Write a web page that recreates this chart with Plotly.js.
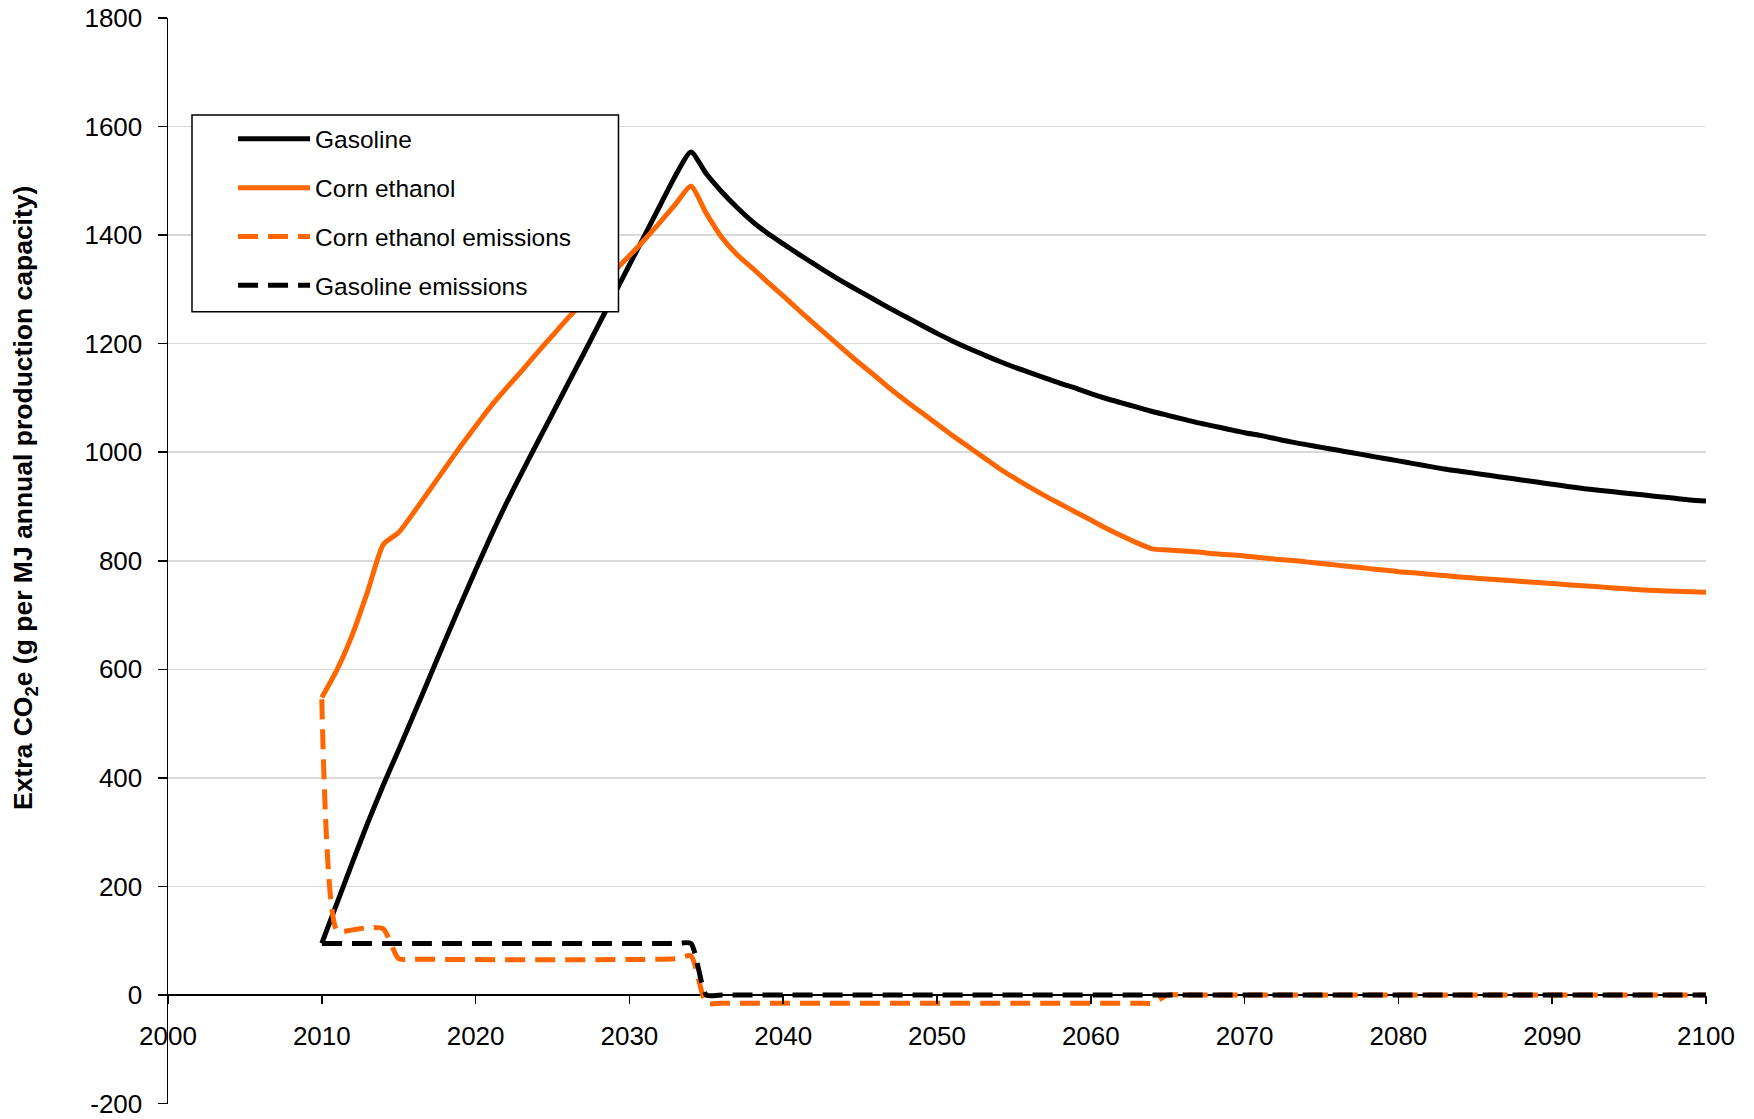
<!DOCTYPE html>
<html>
<head>
<meta charset="utf-8">
<script src="https://cdn.plot.ly/plotly-3.0.1.min.js"></script>
<style>
  html, body { margin: 0; padding: 0; background: #ffffff; }
  #chart { width: 1754px; height: 1119px; }
</style>
</head>
<body>
<div id="chart"></div>
<script>
// ---- Data ----
const firstYear = 2010;

// Gasoline, yearly 2010..2100
const gasoline = [
  95, 170, 245, 318, 387, 452, 518, 585, 652, 718,
  783, 846, 906, 962, 1017, 1071, 1126, 1180, 1235, 1290,
  1345, 1400, 1455, 1510, 1553, 1513, 1480, 1451, 1425, 1403,
  1384, 1365, 1347, 1329, 1312, 1296, 1280, 1264, 1249, 1234,
  1219, 1205, 1192, 1180, 1168, 1157, 1147, 1137, 1127, 1118,
  1108, 1099, 1091, 1083, 1075, 1068, 1061, 1054, 1048, 1042,
  1036, 1031, 1025, 1019, 1014, 1009, 1004, 999, 994, 989,
  984, 979, 974, 969, 965, 961, 957, 953, 949, 945,
  941, 937, 933, 930, 927, 924, 921, 918, 915, 912,
  910
];

// Corn ethanol, yearly 2010..2100
const cornEthanol = [
  548, 600, 665, 745, 830, 852, 890, 930, 970, 1010,
  1048, 1085, 1118, 1150, 1183, 1215, 1247, 1277, 1305, 1333,
  1362, 1392, 1424, 1457, 1490, 1440, 1396, 1364, 1339, 1313,
  1288, 1262, 1237, 1212, 1187, 1163, 1140, 1116, 1094, 1073,
  1052, 1031, 1011, 991, 971, 953, 936, 920, 905, 890,
  875, 860, 846, 833, 822, 820, 818, 816, 813, 811,
  809, 806, 803, 801, 798, 795, 792, 789, 786, 783,
  780, 778, 775, 773, 770, 768, 766, 764, 762, 760,
  758, 756, 754, 752, 750, 748, 746, 745, 744, 743,
  742
];

// Corn ethanol emissions
const ethEmisYears = [2010, 2011, 2012, 2013, 2014, 2015, 2016, 2033, 2034, 2035, 2036, 2063, 2064, 2065, 2066, 2100];
const ethEmisVals  = [545,  118,  120,  124,  122,  67,   66,   67,   72,   -15,  -15,  -15,  -15,  0,    0,    0];

// Gasoline emissions
const gasEmisYears = [2010, 2033, 2034, 2035, 2036, 2100];
const gasEmisVals  = [95,   95,   95,   0,    0,    0];

// Axis ticks
const xTickVals = [2000, 2010, 2020, 2030, 2040, 2050, 2060, 2070, 2080, 2090, 2100];
const yTickVals = [-200, 0, 200, 400, 600, 800, 1000, 1200, 1400, 1600, 1800];
const yTickText = ['-200', '0', '200', '400', '600', '800', '1000', '1200', '1400', '1600', '1800'];

const seriesNames = ['Gasoline', 'Corn ethanol', 'Corn ethanol emissions', 'Gasoline emissions'];
const yTitle = 'Extra CO<sub>2</sub>e (g per MJ annual production capacity)';

// ---- Styling ----
const FONT = 'Liberation Sans, Arial, sans-serif';
const ORANGE = '#ff6600';
const BLACK = '#000000';
const DASH = '20px,10px';

const traces = [
  {
    name: seriesNames[0], legendgroup: 'g1',
    x0: firstYear, dx: 1, y: gasoline,
    type: 'scatter', mode: 'lines',
    line: { color: BLACK, width: 5, shape: 'spline', smoothing: 0.6 }
  },
  {
    name: seriesNames[1], legendgroup: 'g2',
    x0: firstYear, dx: 1, y: cornEthanol,
    type: 'scatter', mode: 'lines',
    line: { color: ORANGE, width: 5, shape: 'spline', smoothing: 0.6 }
  },
  {
    name: seriesNames[2], legendgroup: 'g3',
    x: ethEmisYears, y: ethEmisVals,
    type: 'scatter', mode: 'lines',
    line: { color: ORANGE, width: 5, dash: DASH, shape: 'spline', smoothing: 0.6 }
  },
  {
    name: seriesNames[3], legendgroup: 'g4',
    x: gasEmisYears, y: gasEmisVals,
    type: 'scatter', mode: 'lines',
    line: { color: BLACK, width: 5, dash: DASH, shape: 'spline', smoothing: 0.6 }
  }
];

const layout = {
  width: 1754,
  height: 1119,
  margin: { l: 168, r: 48, t: 18, b: 15, pad: 0 },
  paper_bgcolor: '#ffffff',
  plot_bgcolor: '#ffffff',
  font: { family: FONT, size: 26, color: '#000000' },
  showlegend: true,
  legend: {
    x: 0.0423, y: 0.9094, xanchor: 'left', yanchor: 'top',
    bgcolor: 'rgba(0,0,0,0)', borderwidth: 0,
    font: { family: FONT, size: 24.5, color: '#000000' },
    traceorder: 'grouped',
    tracegroupgap: 14,
    itemwidth: 72
  },
  xaxis: {
    range: [2000, 2100],
    tickmode: 'array', tickvals: xTickVals,
    ticks: 'outside', ticklen: 8, tickwidth: 1.5, tickcolor: '#000000',
    showline: false,
    showgrid: false, zeroline: false,
    anchor: 'free', position: 0.1,
    ticklabelstandoff: 9,
    tickfont: { family: FONT, size: 26, color: '#000000' }
  },
  yaxis: {
    range: [-200.8, 1800],
    tickmode: 'array', tickvals: yTickVals, ticktext: yTickText,
    ticks: 'outside', ticklen: 9, tickwidth: 1.5, tickcolor: '#000000',
    showline: true, linecolor: '#000000', linewidth: 1.5,
    showgrid: true, gridcolor: '#d9d9d9', gridwidth: 1.5,
    zeroline: true, zerolinecolor: '#000000', zerolinewidth: 1.5,
    ticklabelstandoff: 10,
    ticklabeloverflow: 'allow',
    tickfont: { family: FONT, size: 26, color: '#000000' }
  },
  shapes: [
    {
      type: 'rect', xref: 'paper', yref: 'paper', layer: 'above',
      x0: 0.0156, x1: 0.2929, y0: 0.7296, y1: 0.9107,
      line: { color: '#000000', width: 1.5 },
      fillcolor: '#ffffff'
    }
  ],
  annotations: [
    {
      text: '<b>' + yTitle + '</b>',
      xref: 'paper', yref: 'paper',
      x: -0.093, y: 0.558,
      xanchor: 'center', yanchor: 'middle',
      textangle: -90, showarrow: false,
      font: { family: FONT, size: 26.5, color: '#000000' }
    }
  ]
};

Plotly.newPlot('chart', traces, layout, { staticPlot: true, displayModeBar: false });
</script>
</body>
</html>
